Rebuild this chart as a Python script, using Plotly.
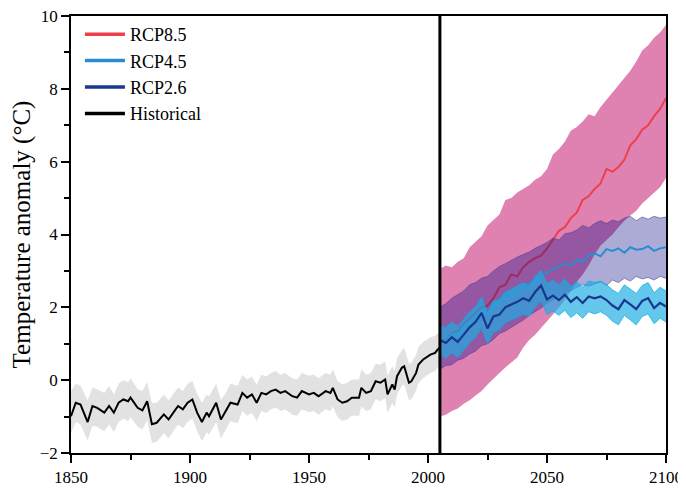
import plotly.graph_objects as go

# ---------------- data ----------------
hist_years = [1850,1852,1854,1857,1859,1861,1864,1866,1868,1870,
              1872,1874,1875,1878,1880,1882,1884,1886,1889,1891,
              1893,1895,1897,1899,1901,1903,1905,1907,1908,1911,
              1913,1915,1917,1920,1922,1924,1926,1928,1930,1932,
              1934,1936,1938,1940,1943,1945,1947,1950,1952,1954,
              1957,1959,1960,1962,1964,1966,1968,1971,1972,1974,
              1976,1978,1980,1982,1983,1985,1986,1987,1989,1990,
              1992,1993,1995,1996,1998,2001,2003,2004,2005]
hist_mean = [-0.99,-0.62,-0.67,-1.15,-0.71,-0.76,-0.89,-0.71,-0.89,-0.62,
             -0.53,-0.58,-0.48,-0.76,-0.83,-0.58,-1.21,-1.17,-0.94,-1.08,
             -0.89,-0.71,-0.80,-0.62,-0.53,-0.89,-1.15,-0.89,-0.99,-0.62,
             -1.08,-0.85,-0.62,-0.67,-0.35,-0.48,-0.39,-0.62,-0.35,-0.39,
             -0.30,-0.26,-0.35,-0.30,-0.44,-0.48,-0.30,-0.39,-0.35,-0.44,
             -0.30,-0.35,-0.21,-0.53,-0.62,-0.58,-0.48,-0.48,-0.21,-0.35,
             -0.30,-0.03,-0.07,0.02,-0.39,-0.12,-0.26,0.11,0.34,0.38,
             -0.07,-0.03,0.20,0.43,0.57,0.70,0.75,0.84,0.90]
hist_upper = [-0.30,-0.10,-0.15,-0.55,-0.20,-0.25,-0.35,-0.15,-0.40,-0.10,
              0.00,-0.05,0.05,-0.25,-0.30,-0.05,-0.62,-0.62,-0.40,-0.55,
              -0.38,-0.20,-0.30,-0.10,-0.02,-0.38,-0.62,-0.40,-0.45,-0.10,
              -0.55,-0.35,-0.10,-0.15,0.15,0.02,0.10,-0.12,0.15,0.10,
              0.20,0.25,0.15,0.20,0.05,0.02,0.20,0.12,0.15,0.05,
              0.20,0.15,0.30,-0.02,-0.12,-0.08,0.02,0.02,0.30,0.15,
              0.20,0.45,0.42,0.52,0.12,0.38,0.25,0.60,0.82,0.88,
              0.45,0.48,0.70,0.92,1.05,1.18,1.22,1.30,1.35]
hist_lower = [-1.45,-1.15,-1.22,-1.65,-1.25,-1.28,-1.40,-1.22,-1.42,-1.15,
              -1.05,-1.12,-1.02,-1.28,-1.35,-1.10,-1.72,-1.70,-1.45,-1.60,
              -1.40,-1.22,-1.32,-1.15,-1.05,-1.40,-1.68,-1.42,-1.50,-1.15,
              -1.60,-1.38,-1.12,-1.18,-0.85,-0.98,-0.90,-1.12,-0.85,-0.90,
              -0.80,-0.75,-0.85,-0.80,-0.95,-0.98,-0.80,-0.88,-0.85,-0.95,
              -0.80,-0.85,-0.72,-1.02,-1.12,-1.08,-0.98,-0.98,-0.72,-0.85,
              -0.80,-0.52,-0.58,-0.48,-0.90,-0.62,-0.75,-0.40,-0.15,-0.12,
              -0.55,-0.52,-0.30,-0.08,0.05,0.20,0.25,0.35,0.40]

rcp_years = [2005,2007.5,2010,2012.5,2015,2017.5,2020,2022.5,2025,2027.5,
             2030,2032.5,2035,2037.5,2040,2042.5,2045,2047.5,2050,2052.5,
             2055,2057.5,2060,2062.5,2065,2067.5,2070,2072.5,2075,2077.5,
             2080,2082.5,2085,2087.5,2090,2092.5,2095,2097.5,2100]

rcp85_mean = [1.10,1.10,1.30,1.35,1.55,1.70,1.85,2.00,2.05,2.25,
              2.55,2.62,2.90,2.85,3.10,3.25,3.35,3.42,3.62,3.85,
              4.10,4.20,4.45,4.60,4.95,5.05,5.25,5.40,5.80,5.72,
              5.85,6.05,6.45,6.62,6.88,7.00,7.25,7.45,7.75]
rcp85_upper = [3.05,3.15,3.10,3.25,3.35,3.65,3.80,3.95,4.25,4.40,
               4.55,4.95,5.00,5.15,5.25,5.35,5.50,5.60,5.80,6.20,
               6.35,6.55,6.85,6.95,7.10,7.30,7.25,7.50,7.70,7.90,
               8.10,8.30,8.50,8.75,9.05,9.20,9.40,9.55,9.75]
rcp85_lower = [-1.00,-0.95,-0.85,-0.78,-0.65,-0.55,-0.42,-0.30,-0.12,0.05,
               0.20,0.35,0.48,0.62,0.90,1.10,1.25,1.45,1.62,1.80,
               2.00,2.20,2.45,2.70,2.90,3.15,3.45,3.70,3.85,4.00,
               4.20,4.38,4.52,4.65,4.85,5.00,5.15,5.30,5.55]

rcp45_mean = [1.10,1.05,1.25,1.20,1.45,1.60,1.72,1.90,1.85,2.05,
              2.15,2.30,2.35,2.50,2.55,2.65,2.72,2.85,2.95,3.05,
              3.12,3.20,3.15,3.30,3.25,3.42,3.48,3.40,3.60,3.55,
              3.62,3.50,3.65,3.58,3.60,3.68,3.55,3.62,3.65]
rcp45_upper = [2.00,2.10,2.25,2.35,2.45,2.62,2.68,2.80,2.85,3.00,
               3.12,3.20,3.30,3.38,3.45,3.52,3.62,3.70,3.78,3.90,
               3.85,4.02,4.05,4.12,4.25,4.18,4.30,4.38,4.30,4.40,
               4.35,4.45,4.50,4.38,4.48,4.42,4.50,4.45,4.48]
rcp45_lower = [0.30,0.40,0.42,0.55,0.60,0.72,0.80,0.95,1.00,1.12,
               1.28,1.35,1.45,1.55,1.65,1.78,1.88,1.98,2.12,2.20,
               2.30,2.40,2.45,2.55,2.62,2.58,2.65,2.70,2.60,2.75,
               2.68,2.80,2.72,2.85,2.78,2.82,2.75,2.85,2.80]

rcp26_mean = [1.10,1.02,1.18,1.05,1.25,1.45,1.60,1.85,1.42,1.75,
              1.80,2.00,2.08,2.15,2.25,2.18,2.42,2.60,2.22,2.32,
              2.20,2.35,2.15,2.28,2.12,2.30,2.25,2.30,2.20,2.05,
              1.95,2.20,2.08,1.95,2.18,2.25,1.98,2.12,2.02]
rcp26_upper = [1.50,1.45,1.60,1.48,1.68,1.88,2.02,2.28,1.85,2.18,
               2.22,2.42,2.50,2.58,2.68,2.60,2.85,3.02,2.65,2.75,
               2.62,2.78,2.58,2.70,2.55,2.72,2.68,2.72,2.62,2.48,
               2.38,2.62,2.50,2.38,2.60,2.68,2.40,2.55,2.45]
rcp26_lower = [0.68,0.60,0.75,0.62,0.82,1.02,1.18,1.42,1.00,1.32,
               1.38,1.58,1.65,1.72,1.82,1.75,2.00,2.18,1.80,1.90,
               1.78,1.92,1.72,1.85,1.70,1.88,1.82,1.88,1.78,1.62,
               1.52,1.78,1.65,1.52,1.75,1.82,1.55,1.70,1.60]

split_year = 2005
legend_names = ["RCP8.5", "RCP4.5", "RCP2.6", "Historical"]
x_ticks = [1850, 1900, 1950, 2000, 2050, 2100]
y_ticks = [-2, 0, 2, 4, 6, 8, 10]

# ---------------- styles ----------------
C_HIST_BAND = "rgb(226,226,226)"
C_HIST = "black"
C_85_BAND = "rgb(223,130,178)"
C_85 = "rgb(236,64,76)"
C_45_BAND = "rgba(0,0,128,0.33)"
C_45_EDGE = "rgba(70,60,150,0.7)"
C_45 = "rgb(40,140,210)"
C_26_BAND = "rgba(30,172,228,0.68)"
C_26_EDGE = "rgba(0,175,225,0.9)"
C_26 = "rgb(25,55,140)"
FONT = "Liberation Serif"

fig = go.Figure()

def band(x, lo, hi, fill, edge=None, ew=0):
    fig.add_trace(go.Scatter(x=x, y=lo, mode="lines",
                             line=dict(width=ew, color=edge or fill),
                             showlegend=False, hoverinfo="skip"))
    fig.add_trace(go.Scatter(x=x, y=hi, mode="lines", fill="tonexty",
                             fillcolor=fill,
                             line=dict(width=ew, color=edge or fill),
                             showlegend=False, hoverinfo="skip"))

def line(x, y, color, w=2):
    fig.add_trace(go.Scatter(x=x, y=y, mode="lines",
                             line=dict(width=w, color=color),
                             showlegend=False, hoverinfo="skip"))

band(hist_years, hist_lower, hist_upper, C_HIST_BAND)
line(hist_years, hist_mean, C_HIST, 2)
band(rcp_years, rcp85_lower, rcp85_upper, C_85_BAND)
line(rcp_years, rcp85_mean, C_85, 2)
band(rcp_years, rcp45_lower, rcp45_upper, C_45_BAND, C_45_EDGE, 0.8)
line(rcp_years, rcp45_mean, C_45, 2)
band(rcp_years, rcp26_lower, rcp26_upper, C_26_BAND, C_26_EDGE, 0.8)
line(rcp_years, rcp26_mean, C_26, 2.2)

# legend-only entries
for name, col in zip(legend_names, [C_85, C_45, C_26, C_HIST]):
    fig.add_trace(go.Scatter(x=[None], y=[None], mode="lines", name=name,
                             line=dict(width=3.5, color=col)))

fig.add_shape(type="line", xref="x", yref="paper", x0=split_year, x1=split_year,
              y0=0, y1=1, line=dict(color="black", width=3))

# page has an 8px body margin, so the figure is sized to fit inside the window
fig.update_layout(
    width=678, height=480,
    margin=dict(l=63, r=20, t=8, b=35),
    plot_bgcolor="white", paper_bgcolor="white",
    font=dict(family=FONT, size=17, color="black"),
    legend=dict(x=0.015, y=1.0, xanchor="left", yanchor="top",
                traceorder="normal", itemwidth=40,
                bgcolor="rgba(0,0,0,0)", font=dict(size=18, family=FONT),
                tracegroupgap=0),
)
fig.update_xaxes(range=[1850, 2100], tickvals=x_ticks, ticks="outside",
                 ticklen=8, tickwidth=1.5, tickcolor="black",
                 minor=dict(dtick=25, ticks="outside", ticklen=5, tickwidth=1.5, tickcolor="black"),
                 showline=True, linewidth=1.5, linecolor="black", mirror=True,
                 showgrid=False, zeroline=False, automargin=False,
                 ticklabeloverflow="allow",
                 tickfont=dict(size=17, family=FONT))
fig.update_yaxes(range=[-2, 10], tickvals=y_ticks, ticks="outside",
                 ticklen=8, tickwidth=1.5, tickcolor="black",
                 minor=dict(dtick=1, ticks="outside", ticklen=5, tickwidth=1.5, tickcolor="black"),
                 showline=True, linewidth=1.5, linecolor="black", mirror=True,
                 showgrid=False, zeroline=False, automargin=False,
                 ticklabeloverflow="allow",
                 tickfont=dict(size=17, family=FONT),
                 title=dict(text="Temperature anomaly (°C)", standoff=10,
                            font=dict(size=25, family=FONT)))

fig.write_html("out.html")
